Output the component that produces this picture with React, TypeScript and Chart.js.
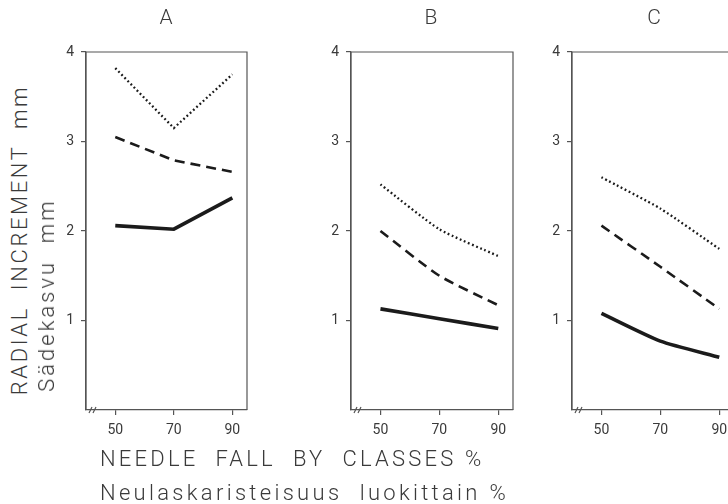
import React, { useEffect, useRef } from "react";
import { Chart, registerables } from "chart.js";

Chart.register(...registerables);

const xValues = [50, 70, 90];
const xTickValues = [50, 70, 90];
const yTickValues = [1, 2, 3, 4];
const panelTitles = ["A", "B", "C"];

const aDotted = [3.82, 3.15, 3.75];
const aDashed = [3.05, 2.79, 2.66];
const aSolid = [2.06, 2.02, 2.37];

const bDotted = [2.52, 2.02, 1.72];
const bDashed = [2.0, 1.5, 1.17];
const bSolid = [1.13, 1.02, 0.91];

const cDotted = [2.6, 2.25, 1.8];
const cDashed = [2.06, 1.6, 1.13];
const cSolid = [1.08, 0.77, 0.59];

const FONT = "Roboto, 'DejaVu Sans', sans-serif";
const INK = "#3a3a3a";

const framePlugin = {
  id: "frame",
  afterDraw(chart: any) {
    const { ctx, chartArea } = chart;
    const { left, top, right, bottom } = chartArea;
    ctx.save();
    ctx.strokeStyle = "#555";
    ctx.lineWidth = 1.2;
    ctx.beginPath();
    ctx.moveTo(left, bottom);
    ctx.lineTo(left, top);
    ctx.lineTo(right, top);
    ctx.lineTo(right, bottom);
    ctx.stroke();
    ctx.beginPath();
    ctx.moveTo(left + 3, bottom + 3);
    ctx.lineTo(left + 6, bottom - 3);
    ctx.moveTo(left + 7, bottom + 3);
    ctx.lineTo(left + 10, bottom - 3);
    ctx.stroke();
    ctx.restore();
  },
};

function makeSet(data: number[], kind: string, tension: number) {
  const base: any = {
    data: xValues.map((x, i) => ({ x, y: data[i] })),
    borderColor: "#1b1b1b",
    pointRadius: 0,
    tension,
    fill: false,
  };
  if (kind === "solid") {
    base.borderWidth = 3.6;
  } else if (kind === "dashed") {
    base.borderWidth = 2.6;
    base.borderDash = [10, 6];
  } else {
    base.borderWidth = 2.3;
    base.borderDash = [1.8, 2.6];
  }
  return base;
}

function Panel(props: {
  left: number;
  width: number;
  dotted: number[];
  dashed: number[];
  solid: number[];
  tension: number;
}) {
  const ref = useRef<HTMLCanvasElement>(null);
  useEffect(() => {
    const canvas = ref.current!;
    const chart = new Chart(canvas, {
      type: "line",
      data: {
        datasets: [
          makeSet(props.dotted, "dotted", props.tension),
          makeSet(props.dashed, "dashed", props.tension),
          makeSet(props.solid, "solid", props.tension),
        ],
      },
      options: {
        animation: false,
        responsive: false,
        maintainAspectRatio: false,
        layout: { padding: { top: 52, right: 10, left: 0, bottom: 0 } },
        plugins: { legend: { display: false }, title: { display: false }, tooltip: { enabled: false } },
        scales: {
          x: {
            type: "linear",
            min: 40,
            max: 95,
            afterBuildTicks: (s: any) => {
              s.ticks = xTickValues.map((v) => ({ value: v }));
            },
            afterFit: (s: any) => {
              s.height = 40;
            },
            grid: { drawOnChartArea: false, drawTicks: true, tickLength: 5, color: "#555", lineWidth: 1.2 },
            border: { display: true, color: "#555", width: 1.2 },
            ticks: { color: INK, font: { family: FONT, size: 14 }, padding: 7, maxRotation: 0 },
          },
          y: {
            type: "linear",
            min: 0,
            max: 4,
            afterBuildTicks: (s: any) => {
              s.ticks = yTickValues.map((v) => ({ value: v }));
            },
            afterFit: (s: any) => {
              s.width = 40;
            },
            grid: { drawOnChartArea: false, drawTicks: true, tickLength: 5, color: "#555", lineWidth: 1.2 },
            border: { display: true, color: "#555", width: 1.2 },
            ticks: { color: INK, font: { family: FONT, size: 14 }, padding: 7 },
          },
        },
      },
      plugins: [framePlugin],
    } as any);
    return () => chart.destroy();
  }, []);
  return (
    <canvas
      ref={ref}
      width={props.width}
      height={450}
      style={{ position: "absolute", left: props.left, top: 0, width: props.width, height: 450 }}
    />
  );
}

const textBase: React.CSSProperties = {
  position: "absolute",
  fontFamily: FONT,
  fontWeight: 300,
  color: INK,
  whiteSpace: "pre",
  lineHeight: 1,
};

export default function App() {
  return (
    <div
      style={{
        position: "fixed",
        left: 0,
        top: 0,
        width: 728,
        height: 504,
        overflow: "hidden",
        background: "#fff",
      }}
    >
      {/* panel A: area 86-247 */}
      <Panel left={46} width={211} dotted={aDotted} dashed={aDashed} solid={aSolid} tension={0} />
      {/* panel B: area 351-513 */}
      <Panel left={311} width={212} dotted={bDotted} dashed={bDashed} solid={bSolid} tension={0.2} />
      {/* panel C: area 572-734 */}
      <Panel left={532} width={212} dotted={cDotted} dashed={cDashed} solid={cSolid} tension={0.2} />

      <div style={{ ...textBase, left: 166, top: 17, fontSize: 21, transform: "translate(-50%,-50%)" }}>{panelTitles[0]}</div>
      <div style={{ ...textBase, left: 431, top: 17, fontSize: 21, transform: "translate(-50%,-50%)" }}>{panelTitles[1]}</div>
      <div style={{ ...textBase, left: 654, top: 17, fontSize: 21, transform: "translate(-50%,-50%)" }}>{panelTitles[2]}</div>

      <div
        style={{
          ...textBase,
          left: 20,
          top: 240,
          fontSize: 22,
          letterSpacing: 2.6,
          transform: "translate(-50%,-50%) rotate(-90deg)",
        }}
      >
        {"RADIAL  INCREMENT  mm"}
      </div>
      <div
        style={{
          ...textBase,
          left: 47,
          top: 295,
          fontSize: 22,
          letterSpacing: 3,
          transform: "translate(-50%,-50%) rotate(-90deg)",
        }}
      >
        {"Sädekasvu  mm"}
      </div>

      <div style={{ ...textBase, left: 100, top: 448, fontSize: 22, letterSpacing: 3.2 }}>
        {"NEEDLE  FALL  BY  CLASSES %"}
      </div>
      <div style={{ ...textBase, left: 100, top: 482, fontSize: 22, letterSpacing: 3.3 }}>
        {"Neulaskaristeisuus  luokittain %"}
      </div>
    </div>
  );
}
